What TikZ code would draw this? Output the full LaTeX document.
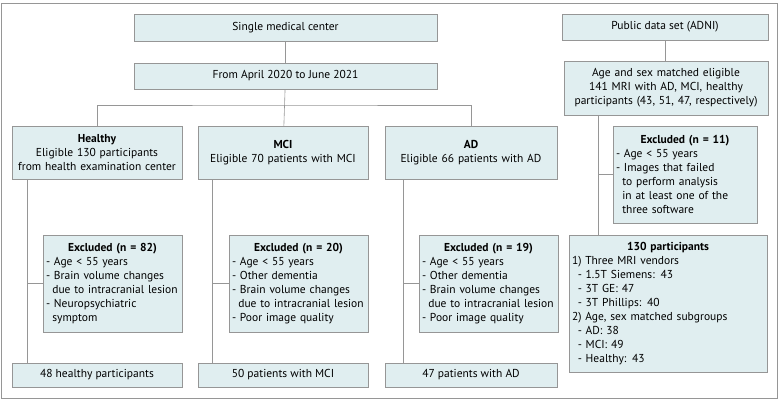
\documentclass[tikz,border=0pt]{standalone}
\usepackage{fontspec}
\setmainfont{PT Sans}
\usepackage{tikz}
\usetikzlibrary{positioning, calc}
\definecolor{boxfill}{RGB}{224,238,240}
\definecolor{boxline}{RGB}{150,150,150}
\newcommand{\xline}[1]{\par\mbox{- #1}}
\newcommand{\xcont}[1]{\par\hspace*{0.55em}\mbox{#1}}

\begin{document}
\begin{tikzpicture}[x=1pt, y=-1pt, font=\fontsize{11.5}{14}\selectfont,
    box/.style={draw=boxline, fill=boxfill, rectangle, align=center, inner sep=4pt},
    exbox/.style={draw=boxline, fill=boxfill, rectangle, inner xsep=3pt, inner ysep=4pt, minimum height=97pt},
    link/.style={draw=boxline, line width=0.6pt}]
\useasboundingbox (0,0) rectangle (779,401);
\draw[boxline] (1,3) rectangle (777,398);

% Single center branch
\node[box, minimum width=303pt, minimum height=27pt] (center) at (285.5,27.5) {Single medical center};
\node[box, minimum width=303pt, minimum height=26pt] (period) at (285.5,76) {From April 2020 to June 2021};
\node[box, text width=162pt, minimum height=53pt] (healthy) at (97,152.5) {\textbf{Healthy}\\Eligible 130 participants\\from health examination center};
\node[box, text width=162pt, minimum height=53pt] (mci) at (283,152.5) {\textbf{MCI}\\Eligible 70 patients with MCI};
\node[box, text width=164pt, minimum height=53pt] (ad) at (471,152.5) {\textbf{AD}\\Eligible 66 patients with AD};

\node[exbox, text width=133pt] (exhealthy) at (112.5,283.5) {\centering\textbf{Excluded (n = 82)}\par\raggedright
    \xline{Age < 55 years}
    \xline{Brain volume changes}\xcont{due to intracranial lesion}
    \xline{Neuropsychiatric}\xcont{symptom}};
\node[exbox, text width=133pt] (exmci) at (298.5,283.5) {\centering\textbf{Excluded (n = 20)}\par\raggedright
    \xline{Age < 55 years}
    \xline{Other dementia}
    \xline{Brain volume changes}\xcont{due to intracranial lesion}
    \xline{Poor image quality}};
\node[exbox, text width=133pt] (exad) at (488.5,283.5) {\centering\textbf{Excluded (n = 19)}\par\raggedright
    \xline{Age < 55 years}
    \xline{Other dementia}
    \xline{Brain volume changes}\xcont{due to intracranial lesion}
    \xline{Poor image quality}};

\node[box, minimum width=170pt, minimum height=24pt] (fhealthy) at (97,375) {48 healthy participants};
\node[box, minimum width=170pt, minimum height=24pt] (fmci) at (283,375) {50 patients with MCI};
\node[box, minimum width=172pt, minimum height=24pt] (fad) at (471,375) {47 patients with AD};

% ADNI branch
\node[box, minimum width=206pt, minimum height=26pt] (adni) at (665,27) {Public data set (ADNI)};
\node[box, text width=196pt, minimum height=54pt] (matched) at (666,88) {Age and sex matched eligible\\141 MRI with AD, MCI, healthy\\participants (43, 51, 47, respectively)};
\node[exbox, text width=138pt] (exadni) at (685,174.5) {\centering\textbf{Excluded (n = 11)}\par\raggedright
    \xline{Age < 55 years}
    \xline{Images that failed}\xcont{to perform analysis}\xcont{in at least one of the}\xcont{three software}};
\node[exbox, text width=192pt, minimum height=137pt] (final) at (668,303.5) {\centering\textbf{130 participants}\par\raggedright
    1) Three MRI vendors\par
    \hspace*{0.5em}- 1.5T Siemens: 43\par
    \hspace*{0.5em}- 3T GE: 47\par
    \hspace*{0.5em}- 3T Phillips: 40\par
    2) Age, sex matched subgroups\par
    \hspace*{0.5em}- AD: 38\par
    \hspace*{0.5em}- MCI: 49\par
    \hspace*{0.5em}- Healthy: 43};

% connectors
\coordinate (split) at (285.5,105);
\draw[link] (center) -- (period);
\draw[link] (period) -- (mci);
\draw[link] (healthy.north) |- (split) -| (ad.north);

\coordinate (hl) at (27,283.5);
\coordinate (ml) at (212,283.5);
\coordinate (al) at (403,283.5);
\draw[link] (healthy.south -| hl) -- (fhealthy.north -| hl);
\draw[link] (hl) -- (exhealthy.west);
\draw[link] (mci.south -| ml) -- (fmci.north -| ml);
\draw[link] (ml) -- (exmci.west);
\draw[link] (ad.south -| al) -- (fad.north -| al);
\draw[link] (al) -- (exad.west);

\coordinate (nl) at (598,174.5);
\draw[link] (adni) -- (adni.south |- matched.north);
\draw[link] (matched.south -| nl) -- (final.north -| nl);
\draw[link] (nl) -- (exadni.west);
\end{tikzpicture}
\end{document}
